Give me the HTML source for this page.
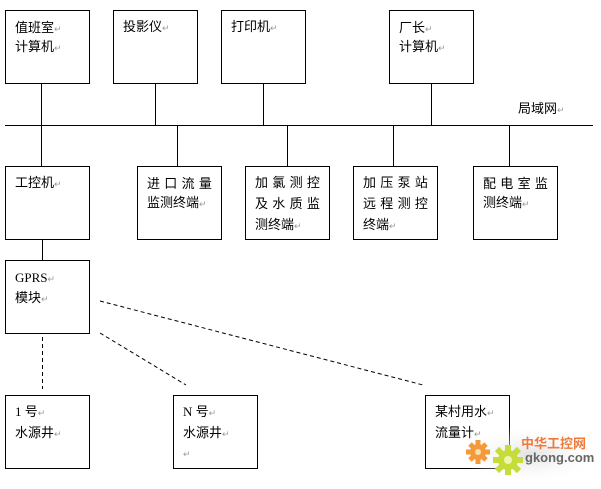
<!DOCTYPE html>
<html>
<head>
<meta charset="utf-8">
<style>
html,body{margin:0;padding:0;background:#fff;}
svg{display:block;}
text{font-family:"Liberation Sans","Noto Sans CJK SC",sans-serif;font-size:13px;fill:#000;}
.r{fill:#999;font-size:9px;}
.serif{font-family:"Liberation Serif","Noto Serif CJK SC",serif;}
</style>
</head>
<body>
<svg width="601" height="489" viewBox="0 0 601 489" xmlns="http://www.w3.org/2000/svg">
<defs>
<radialGradient id="sh" cx="50%" cy="50%" r="50%">
<stop offset="0%" stop-color="#ddd" stop-opacity="0.9"/>
<stop offset="100%" stop-color="#fff" stop-opacity="0"/>
</radialGradient>
</defs>
<g stroke="#000" stroke-width="1" fill="none" shape-rendering="crispEdges">
<!-- top row boxes -->
<rect x="5.5" y="10.5" width="84" height="73"/>
<rect x="113.5" y="10.5" width="84" height="73"/>
<rect x="221.5" y="10.5" width="84" height="73"/>
<rect x="389.5" y="10.5" width="84" height="73"/>
<!-- verticals to bus -->
<line x1="41.5" y1="83" x2="41.5" y2="125"/>
<line x1="155.5" y1="83" x2="155.5" y2="125"/>
<line x1="263.5" y1="83" x2="263.5" y2="125"/>
<line x1="431.5" y1="83" x2="431.5" y2="125"/>
<!-- bus -->
<line x1="5" y1="125.5" x2="593" y2="125.5"/>
<!-- down from bus -->
<line x1="41.5" y1="125" x2="41.5" y2="166"/>
<line x1="177.5" y1="125" x2="177.5" y2="166"/>
<line x1="287.5" y1="125" x2="287.5" y2="166"/>
<line x1="393.5" y1="125" x2="393.5" y2="166"/>
<line x1="509.5" y1="125" x2="509.5" y2="166"/>
<!-- row 2 boxes -->
<rect x="5.5" y="166.5" width="84" height="73"/>
<rect x="137.5" y="166.5" width="84" height="73"/>
<rect x="245.5" y="166.5" width="84" height="73"/>
<rect x="353.5" y="166.5" width="84" height="73"/>
<rect x="473.5" y="166.5" width="84" height="73"/>
<!-- GPRS -->
<line x1="42.5" y1="239" x2="42.5" y2="260"/>
<rect x="5.5" y="260.5" width="84" height="73"/>
<!-- row 3 -->
<rect x="5.5" y="395.5" width="84" height="73"/>
<rect x="173.5" y="395.5" width="84" height="73"/>
<rect x="425.5" y="395.5" width="84" height="73"/>
</g>
<!-- dashed -->
<g stroke="#000" stroke-width="1" fill="none" stroke-dasharray="4,3">
<line x1="42.5" y1="337" x2="42.5" y2="389" shape-rendering="crispEdges"/>
<line x1="100" y1="301" x2="423" y2="385"/>
<line x1="100" y1="333" x2="186" y2="385"/>
</g>

<!-- texts row 1 -->
<text x="15" y="32">值班室<tspan class="r">↵</tspan></text>
<text x="15" y="51">计算机<tspan class="r">↵</tspan></text>
<text x="123" y="31">投影仪<tspan class="r">↵</tspan></text>
<text x="231" y="31">打印机<tspan class="r">↵</tspan></text>
<text x="399" y="32">厂长<tspan class="r">↵</tspan></text>
<text x="399" y="51">计算机<tspan class="r">↵</tspan></text>
<text x="518" y="113">局域网<tspan class="r">↵</tspan></text>

<!-- row 2 -->
<text x="15" y="187">工控机<tspan class="r">↵</tspan></text>
<text x="147" y="188" letter-spacing="4.3">进口流量</text>
<text x="147" y="207">监测终端<tspan class="r">↵</tspan></text>
<text x="255" y="187" letter-spacing="4.3">加氯测控</text>
<text x="255" y="208" letter-spacing="4.3">及水质监</text>
<text x="255" y="229">测终端<tspan class="r">↵</tspan></text>
<text x="363" y="187" letter-spacing="4.3">加压泵站</text>
<text x="363" y="208" letter-spacing="4.3">远程测控</text>
<text x="363" y="229">终端<tspan class="r">↵</tspan></text>
<text x="483" y="188" letter-spacing="4.3">配电室监</text>
<text x="483" y="207">测终端<tspan class="r">↵</tspan></text>

<!-- GPRS -->
<text x="15" y="282" class="serif" font-size="14">GPRS<tspan class="r">↵</tspan></text>
<text x="15" y="302">模块<tspan class="r">↵</tspan></text>

<!-- row 3 -->
<text x="15" y="416"><tspan class="serif">1 </tspan>号<tspan class="r">↵</tspan></text>
<text x="15" y="437">水源井<tspan class="r">↵</tspan></text>
<text x="183" y="416"><tspan class="serif">N </tspan>号<tspan class="r">↵</tspan></text>
<text x="183" y="437">水源井<tspan class="r">↵</tspan></text>
<text x="183" y="457" class="r">↵</text>
<text x="435" y="416">某村用水<tspan class="r">↵</tspan></text>
<text x="435" y="437">流量计<tspan class="r">↵</tspan></text>

<!-- watermark -->
<ellipse cx="530" cy="455" rx="70" ry="30" fill="url(#sh)"/>
<g fill="#f59a3a">
<circle cx="478" cy="452" r="8"/>
<g stroke="#f59a3a" stroke-width="5">
<line x1="478" y1="440" x2="478" y2="464"/>
<line x1="466" y1="452" x2="490" y2="452"/>
<line x1="470" y1="444" x2="486" y2="460"/>
<line x1="486" y1="444" x2="470" y2="460"/>
</g>
<circle cx="478" cy="452" r="3" fill="#fde0b0"/>
</g>
<g fill="#c6dc3a">
<circle cx="508" cy="460" r="10"/>
<g stroke="#c6dc3a" stroke-width="6">
<line x1="508" y1="445" x2="508" y2="475"/>
<line x1="493" y1="460" x2="523" y2="460"/>
<line x1="497" y1="449" x2="519" y2="471"/>
<line x1="519" y1="449" x2="497" y2="471"/>
</g>
<circle cx="508" cy="460" r="4" fill="#eef5b0"/>
</g>
<text x="521" y="448" font-size="13" font-weight="bold" style="fill:#f07a3a;font-family:'Liberation Sans','Noto Sans CJK SC',sans-serif;">中华工控网</text>
<text x="525" y="462" font-size="11" font-weight="bold" style="fill:#666;">gkong.com</text>
</svg>
</body>
</html>
